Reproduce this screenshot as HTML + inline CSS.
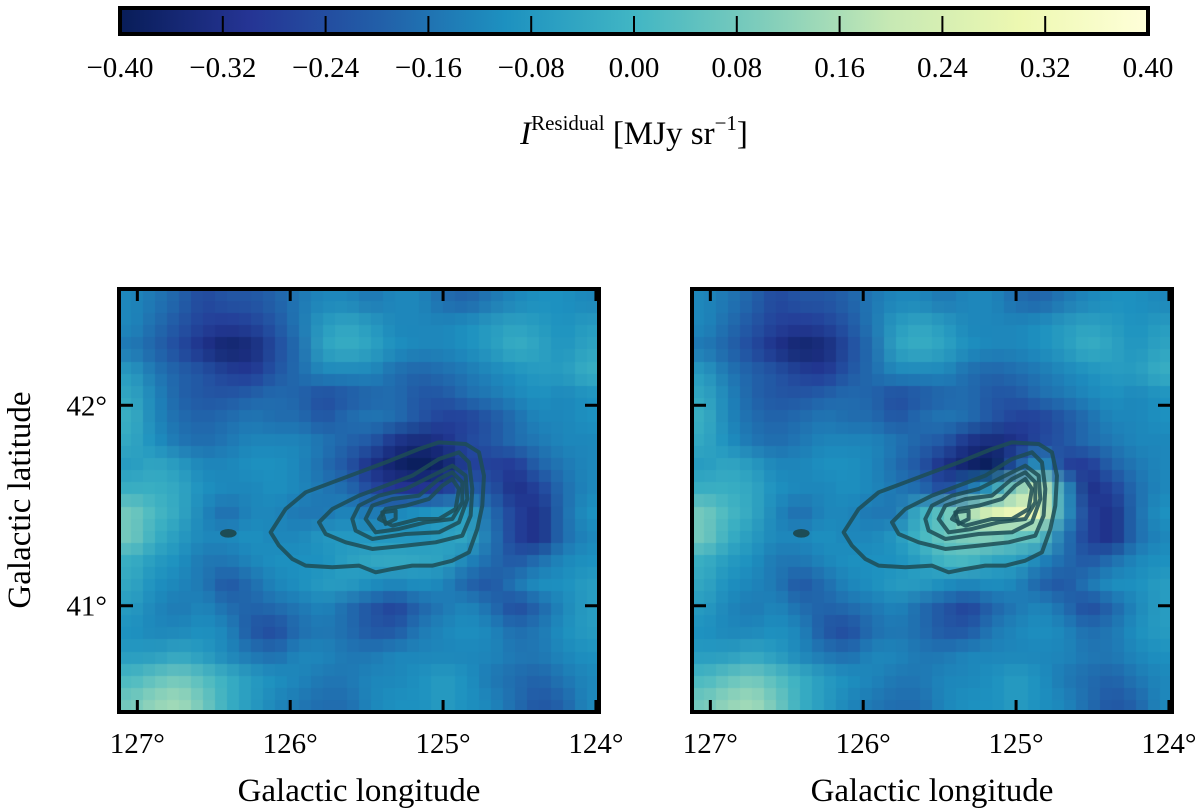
<!DOCTYPE html>
<html><head><meta charset="utf-8">
<style>
html,body{margin:0;padding:0;background:#fff;}
body{width:1200px;height:809px;position:relative;overflow:hidden;font-family:"Liberation Serif","DejaVu Serif",serif;}
</style></head>
<body>
<svg id="fig" width="1200" height="809" xmlns="http://www.w3.org/2000/svg" style="position:absolute;left:0;top:0">
  <defs>
    <linearGradient id="cbgrad" x1="0" x2="1" y1="0" y2="0">
      <stop offset="0" stop-color="#081d58"/>
      <stop offset="0.125" stop-color="#253494"/>
      <stop offset="0.25" stop-color="#225ea8"/>
      <stop offset="0.375" stop-color="#1d91c0"/>
      <stop offset="0.5" stop-color="#41b6c4"/>
      <stop offset="0.625" stop-color="#7fcdbb"/>
      <stop offset="0.75" stop-color="#c7e9b4"/>
      <stop offset="0.875" stop-color="#edf8b1"/>
      <stop offset="1" stop-color="#ffffd9"/>
    </linearGradient>
  </defs>
  <g id="colorbar">
    <rect x="120" y="8" width="1028" height="26" fill="url(#cbgrad)" stroke="#000" stroke-width="4"/>
    <g id="cbticks"></g>
  </g>
  <text x="634" y="144" text-anchor="middle" font-size="33" fill="#000"><tspan font-style="italic">I</tspan><tspan font-size="21" dy="-14">Residual</tspan><tspan dy="14"> [MJy sr</tspan><tspan font-size="21" dy="-14">−1</tspan><tspan dy="14">]</tspan></text>
  <g id="panels"></g>
  <text transform="translate(30,500) rotate(-90)" text-anchor="middle" font-size="33" fill="#000">Galactic latitude</text>
  <text x="359" y="801" text-anchor="middle" font-size="33" fill="#000">Galactic longitude</text>
  <text x="932" y="801" text-anchor="middle" font-size="33" fill="#000">Galactic longitude</text>
</svg>
<script>
// ---- data ----
const cbTicks = [-0.40,-0.32,-0.24,-0.16,-0.08,0.00,0.08,0.16,0.24,0.32,0.40];
const xTicks = [127,126,125,124];
const yTicks = [42,41];
// residual map (units of 0.01 MJy/sr), 18 rows x 20 cols, top to bottom
const residualLeft = [
[-12,-15,-19,-25,-22,-22,-19,-15,-12,-12,-15,-12,-12,-17,-19,-15,-12,-10,-10,-12],
[-12,-17,-22,-27,-29,-27,-22,-15,-7,-4,-7,-12,-12,-12,-10,-7,-5,-7,-10,-7],
[-15,-19,-25,-32,-37,-35,-25,-17,-5,-2,-5,-10,-12,-12,-10,-7,-2,-5,-9,-5],
[-7,-15,-19,-22,-27,-29,-22,-17,-12,-12,-12,-17,-19,-17,-15,-12,-10,-7,-7,-2],
[-4,-12,-19,-22,-22,-19,-17,-19,-25,-22,-19,-17,-22,-22,-17,-15,-12,-10,-12,-10],
[-2,-12,-17,-19,-17,-15,-17,-17,-22,-17,-15,-17,-22,-27,-27,-22,-17,-12,-12,-10],
[-4,-10,-15,-17,-15,-12,-12,-12,-15,-19,-22,-32,-35,-32,-25,-22,-17,-15,-12,-12],
[-7,-4,-7,-12,-12,-10,-10,-12,-17,-22,-32,-37,-42,-37,-27,-27,-29,-19,-15,-12],
[-2,-2,-4,-10,-12,-12,-10,-12,-15,-17,-25,-30,-30,-28,-20,-22,-32,-27,-17,-12],
[8,1,-4,-12,-17,-12,-12,-15,-15,-12,-15,-12,-10,-8,-6,-17,-27,-32,-17,-10],
[8,-2,-7,-12,-12,-10,-12,-12,-8,-8,-8,-8,-8,-6,-4,-15,-27,-32,-17,-12],
[-2,-7,-10,-15,-15,-12,-10,-10,-10,-6,-4,-3,-4,-5,-12,-17,-22,-17,-12,-10],
[-4,-10,-12,-15,-22,-17,-12,-10,-7,-7,-10,-12,-10,-12,-19,-22,-15,-10,-10,-7],
[-7,-12,-15,-12,-17,-19,-17,-15,-12,-17,-22,-27,-19,-15,-12,-17,-25,-19,-12,-7],
[-10,-12,-12,-10,-12,-22,-25,-17,-15,-17,-22,-22,-15,-12,-10,-12,-17,-15,-10,-7],
[-7,-7,-4,-7,-12,-15,-17,-12,-12,-15,-15,-12,-12,-12,-12,-12,-15,-15,-12,-10],
[1,5,8,3,-2,-7,-10,-12,-15,-15,-12,-12,-10,-7,-10,-15,-17,-19,-15,-12],
[8,13,15,8,-2,-7,-12,-15,-17,-17,-12,-10,-10,-7,-10,-12,-17,-22,-19,-12]
];
// right panel = left + source excess [row, col, delta]
const sourceExcess = [
[7,13,15],[7,14,20],
[8,11,15],[8,12,25],[8,13,40],[8,14,45],[8,15,15],
[9,9,10],[9,10,20],[9,11,28],[9,12,35],[9,13,40],[9,14,35],[9,15,10],
[10,9,8],[10,10,15],[10,11,18],[10,12,18],[10,13,12],[10,14,8],
[11,10,5],[11,11,5]
];
const residualRight = residualLeft.map(r=>r.slice());
sourceExcess.forEach(([r,c,d])=>{residualRight[r][c]+=d;});

// ---- helpers ----
const NS="http://www.w3.org/2000/svg";
const stops=[[8,29,88],[37,52,148],[34,94,168],[29,145,192],[65,182,196],[127,205,187],[199,233,180],[237,248,177],[255,255,217]];
function cmap(v){let t=(v+0.4)/0.8;t=Math.max(0,Math.min(1,t));const f=t*8,i=Math.min(7,Math.floor(f)),u=f-i;
 const a=stops[i],b=stops[i+1];return a.map((x,k)=>Math.round(x+(b[k]-x)*u));}
function mk(tag,attrs,parent){const e=document.createElementNS(NS,tag);for(const k in attrs)e.setAttribute(k,attrs[k]);parent.appendChild(e);return e;}

// colorbar ticks
const cbX=v=>120+(v+0.4)/0.8*1028;
const cbg=document.getElementById('cbticks');
cbTicks.forEach(v=>{
  const x=cbX(v);
  if(v>-0.4&&v<0.4){const l=mk('line',{x1:x,x2:x,y1:16,y2:33,stroke:'#000','stroke-width':2},cbg);
    
    }
  const t=mk('text',{x:x,y:77,'text-anchor':'middle','font-size':29,fill:'#000'},cbg);
  t.textContent=(v<0?'−':'')+Math.abs(v).toFixed(2);
  
  
});

// panels
const PW=480,PH=423,PY=289;
const lonX=(lon,x0)=>x0+(127.12-lon)/3.14*PW;
const latY=lat=>PY+(42.58-lat)/2.11*PH;
const contours=[
"455,730 500,660 560,610 640,580 720,550 800,520 900,480 960,460 1040,465 1080,490 1095,560 1090,650 1075,720 1050,790 1000,815 940,830 880,830 820,840 770,850 720,830 640,835 560,830 520,810 480,770",
"600,700 640,660 720,620 800,590 880,560 960,510 1020,490 1050,520 1060,600 1055,680 1030,740 950,760 860,770 760,780 680,760 620,735",
"700,690 720,650 780,620 860,600 940,560 1000,530 1040,560 1045,630 1020,700 960,730 860,735 760,750 710,725",
"740,690 760,650 820,630 900,620 960,570 1000,550 1030,580 1030,640 1000,690 920,700 840,720 770,730",
"780,690 800,660 860,650 930,630 970,590 1000,570 1020,600 1010,660 960,690 900,690 820,710",
"790,670 830,665 830,690 800,705"];
function buildPanel(x0,data,name){
  const g=mk('g',{},document.getElementById('panels'));
  
  
  const rows=data.length,cols=data[0].length;
  const c1=document.createElement('canvas');c1.width=cols;c1.height=rows;
  const x1=c1.getContext('2d');const id=x1.createImageData(cols,rows);
  data.forEach((r,i)=>r.forEach((v,j)=>{const [R,G,B]=cmap(v/100);const p=(i*cols+j)*4;id.data[p]=R;id.data[p+1]=G;id.data[p+2]=B;id.data[p+3]=255;}));
  x1.putImageData(id,0,0);
  const c2=document.createElement('canvas');c2.width=40;c2.height=35;
  const x2=c2.getContext('2d');x2.imageSmoothingEnabled=true;x2.drawImage(c1,0,0,40,35);
  const c3=document.createElement('canvas');c3.width=PW;c3.height=PH;
  const x3=c3.getContext('2d');x3.imageSmoothingEnabled=false;x3.drawImage(c2,0,0,PW,PH);
  const im=mk('image',{x:x0,y:PY,width:PW,height:PH,preserveAspectRatio:'none',href:c3.toDataURL()},g);
  
  
  const cg=mk('g',{transform:`translate(${x0},${PY}) scale(0.3333)`},g);
  
  
  contours.forEach(p=>{const e=mk('polygon',{points:p,fill:'none',stroke:'#1d4c55','stroke-opacity':0.85,'stroke-width':12,'stroke-linejoin':'round'},cg);
    
    });
  const b=mk('ellipse',{cx:328,cy:733,rx:25,ry:13,fill:'#1d4c55'},cg);
  
  
  const fr=mk('rect',{x:x0,y:PY,width:PW,height:PH,fill:'none',stroke:'#000','stroke-width':4},g);
  
  
  xTicks.forEach(l=>{const x=lonX(l,x0);
    mk('line',{x1:x,x2:x,y1:PY+PH,y2:PY+PH-12,stroke:'#000','stroke-width':3},g);
    mk('line',{x1:x,x2:x,y1:PY,y2:PY+12,stroke:'#000','stroke-width':3},g);
    const t=mk('text',{x:x,y:PY+PH+41,'text-anchor':'middle','font-size':29,fill:'#000'},g);
    t.textContent=l+'°';
    
    });
  yTicks.forEach(l=>{const y=latY(l);
    mk('line',{x1:x0,x2:x0+14,y1:y,y2:y,stroke:'#000','stroke-width':3},g);
    mk('line',{x1:x0+PW,x2:x0+PW-14,y1:y,y2:y,stroke:'#000','stroke-width':3},g);
    if(x0<300){const t=mk('text',{x:x0-12,y:y+10,'text-anchor':'end','font-size':29,fill:'#000'},g);
      t.textContent=l+'°';
      
      }});
}
buildPanel(119,residualLeft,'left-panel');
buildPanel(692,residualRight,'right-panel');
</script>
</body></html>
